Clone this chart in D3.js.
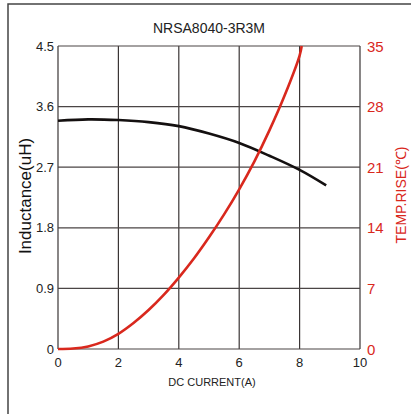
<!DOCTYPE html>
<html><head><meta charset="utf-8">
<script src="https://cdn.jsdelivr.net/npm/d3@7"></script>
<style>body{margin:0;background:#fff}svg{display:block;font-family:"Liberation Sans",Arial,sans-serif}</style>
</head><body>
<svg id="c" width="411" height="414"></svg>
<script>
const title = "NRSA8040-3R3M";
const xTicks = [0,2,4,6,8,10];
const leftTicks = [0,0.9,1.8,2.7,3.6,4.5];
const rightTicks = [0,7,14,21,28,35];
const indCurrent = [0,1,2,3,4,5,6,7,8,8.88];
const indValues  = [3.39,3.41,3.40,3.37,3.31,3.20,3.06,2.87,2.66,2.43];
const tempCurrent = [0,0.5,1,1.5,2,2.5,3,3.5,4,4.5,5,5.5,6,6.5,7,7.5,8,8.07];
const tempValues  = [0,0.05,0.3,0.85,1.75,3.0,4.5,6.25,8.25,10.45,12.9,15.55,18.45,21.65,25.25,29.25,33.9,35];

const svg = d3.select("#c");
const L = 58, R = 360, T = 46, B = 349;
const x = d3.scaleLinear().domain([0,10]).range([L,R]);
const yL = d3.scaleLinear().domain([0,4.5]).range([B,T]);
const yR = d3.scaleLinear().domain([0,35]).range([B,T]);
const red = "#d9281d";

// outer frame
svg.append("path").attr("d","M8,414V4H411").attr("fill","none").attr("stroke","#444").attr("stroke-width",1.5);

// grid
const g = svg.append("g");
g.selectAll(".v").data(xTicks).join("line")
  .attr("x1",d=>x(d)).attr("x2",d=>x(d)).attr("y1",T).attr("y2",B)
  .attr("stroke","#3a3535").attr("stroke-width",1.2);
g.selectAll(".h").data(leftTicks).join("line")
  .attr("x1",L).attr("x2",R).attr("y1",d=>yL(d)).attr("y2",d=>yL(d))
  .attr("stroke","#4a4545").attr("stroke-width",1.2);

// tick labels
svg.append("g").selectAll("text").data(xTicks).join("text")
  .attr("x",d=>x(d)).attr("y",367).attr("text-anchor","middle")
  .attr("font-size",13).attr("fill","#222").text(d=>d);
svg.append("g").selectAll("text").data(leftTicks).join("text")
  .attr("x",54).attr("y",d=>yL(d)+4.5).attr("text-anchor","end")
  .attr("font-size",13).attr("fill","#222").text(d=>d);
svg.append("g").selectAll("text").data(rightTicks).join("text")
  .attr("x",367).attr("y",d=>yR(d)+5.5).attr("text-anchor","start")
  .attr("font-size",15).attr("fill",red).text(d=>d);

// titles
svg.append("text").attr("x",209).attr("y",33).attr("text-anchor","middle")
  .attr("font-size",14).attr("fill","#222").text(title);
svg.append("text").attr("x",212).attr("y",386).attr("text-anchor","middle")
  .attr("font-size",11).attr("fill","#222").text("DC CURRENT(A)");
svg.append("text").attr("transform","translate(31,196) rotate(-90)").attr("text-anchor","middle")
  .attr("font-size",17).attr("fill","#111").text("Inductance(uH)");
svg.append("text").attr("transform","translate(406,195) rotate(-90)").attr("text-anchor","middle")
  .attr("font-size",14).attr("fill",red).text("TEMP.RISE(℃)");

// curves
const lineInd = d3.line().x((d,i)=>x(indCurrent[i])).y(d=>yL(d)).curve(d3.curveCatmullRom);
svg.append("path").attr("d",lineInd(indValues)).attr("fill","none").attr("stroke","#141010").attr("stroke-width",2.6);
const lineT = d3.line().x((d,i)=>x(tempCurrent[i])).y(d=>yR(d)).curve(d3.curveCatmullRom);
svg.append("path").attr("d",lineT(tempValues)).attr("fill","none").attr("stroke",red).attr("stroke-width",2.6);
</script>
</body></html>
